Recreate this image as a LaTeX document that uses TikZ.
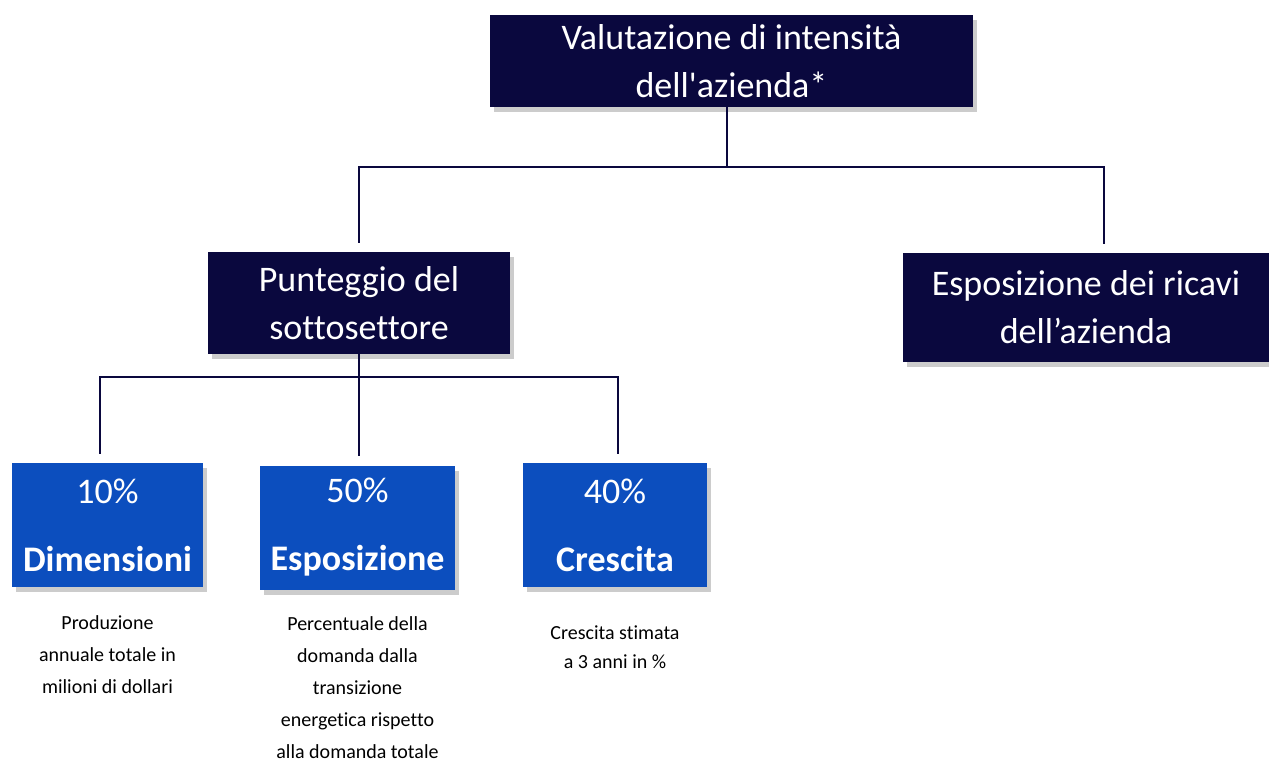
\documentclass[tikz,border=0pt]{standalone}
\usepackage{fontspec}
\setmainfont{Carlito}[Ligatures={NoCommon,TeXOff}]
\usepackage{tikz}
\usetikzlibrary{shapes,arrows}
\usetikzlibrary{arrows,calc,positioning,shadows}
\definecolor{navybox}{RGB}{10,8,62}
\definecolor{bluebox}{RGB}{12,78,190}
\tikzset{
        block/.style = {draw=none, rectangle, fill=navybox, text=white,
            align=center, font=\fontsize{18}{24}\selectfont,
            drop shadow={shadow xshift=2pt, shadow yshift=-2.5pt, opacity=.4}},
        weight/.style = {block, fill=bluebox,
            minimum height=62pt},
        desc/.style = {align=center, inner sep=0pt,
            font=\fontsize{10}{16}\selectfont},
        link/.style={draw=navybox, line width=1pt, shorten >=4.5pt},
    }

\begin{document}
\begin{tikzpicture}[x=0.5pt,y=-0.5pt]
    \useasboundingbox (0,0) rectangle (1269,762);

    \node[block, minimum width=241.5pt, minimum height=46pt] (val) at (731.5,61)
        {Valutazione di intensità\\dell'azienda*};
    \node[block, minimum width=151pt, minimum height=51pt] (punt) at (359,303)
        {Punteggio del\\sottosettore};
    \node[block, minimum width=183pt, minimum height=54.5pt] (ricavi) at (1086,307.5)
        {Esposizione dei ricavi\\dell’azienda};

    \node[weight, minimum width=95.5pt] (dim) at (107.5,525)
        {10\%\\[10pt]{\bfseries Dimensioni}};
    \node[weight, minimum width=97.5pt] (expo) at (357.5,527.5)
        {50\%\\[10pt]{\bfseries Esposizione}};
    \node[weight, minimum width=92pt] (cre) at (615,525)
        {40\%\\[10pt]{\bfseries Crescita}};

    \node[desc, below=14pt of dim] (dimtxt)
        {Produzione\\annuale totale in\\milioni di dollari};
    \node[desc, below=13pt of expo] (expotxt)
        {Percentuale della\\domanda dalla\\transizione\\energetica rispetto\\alla domanda totale};
    \node[desc, below=19pt of cre, font=\fontsize{10}{14.5}\selectfont] (cretxt)
        {Crescita stimata\\a 3 anni in \%};

    % albero
    \draw[link] ([xshift=-2.25pt]val.south) -- ++(0,60) -| (punt.north);
    \draw[link] ([xshift=-2.25pt]val.south) -- ++(0,60) -| ([xshift=9pt]ricavi.north);
    \draw[link] (punt.south) -- (punt.south |- expo.north);
    \draw[link] (punt.south) -- ++(0,23) -| ([xshift=-3.75pt]dim.north);
    \draw[link] (punt.south) -- ++(0,23) -| ([xshift=1.5pt]cre.north);
\end{tikzpicture}
\end{document}
